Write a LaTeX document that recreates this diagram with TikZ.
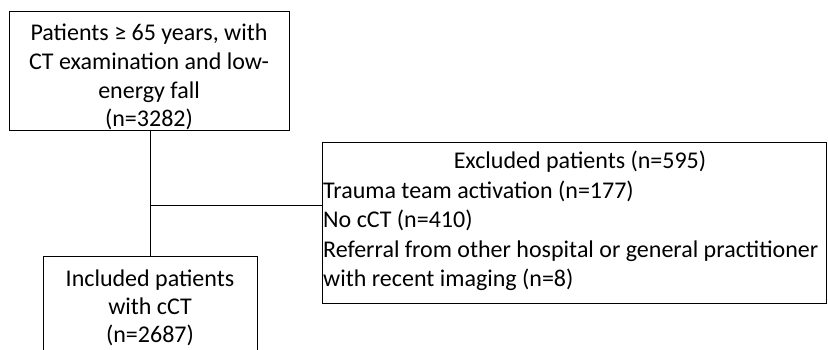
\documentclass[tikz,border=0pt]{standalone}
\usepackage{fontspec}
\setmainfont{Carlito}
\begin{document}
\begin{tikzpicture}[x=1pt,y=-1pt,
  box/.style={draw,line width=1pt,inner sep=0pt},
  txt/.style={inner sep=0pt,anchor=base,font=\fontsize{24}{28}\selectfont},
  txtl/.style={txt,anchor=base west},
  conn/.style={line width=1pt}]
\useasboundingbox (0,0) rectangle (828,350);
\clip (0,0) rectangle (828,350);
% boxes
\node[box,minimum width=280pt,minimum height=119pt] (top) at (149,71.5) {};
\node[box,minimum width=504pt,minimum height=160pt] (excl) at (574,223) {};
\node[box,minimum width=214pt,minimum height=110pt] (incl) at (150,311) {};
% top text
\node[txt] (t1) at (149,41) {Patients ≥ 65 years, with};
\node[txt] (t2) at (149,70) {CT examination and low-};
\node[txt] (t3) at (149,98.5) {energy fall};
\node[txt] (t4) at (149,126.5) {(n=3282)};
% excluded text
\node[txt] (e1) at (580,169) {Excluded patients (n=595)};
\node[txtl] (e2) at (323,198.5) {Trauma team activation (n=177)};
\node[txtl] (e3) at (323,227.5) {No cCT (n=410)};
\node[txtl] (e4) at (323,257) {Referral from other hospital or general practitioner};
\node[txtl] (e5) at (323,286) {with recent imaging (n=8)};
% included text
\node[txt] (i1) at (150,286) {Included patients};
\node[txt] (i2) at (150,314.5) {with cCT};
\node[txt] (i3) at (150,342.5) {(n=2687)};
% connectors
\coordinate (j) at (150,206);
\draw[conn] (top.south -| j) -- (incl.north -| j);
\draw[conn] (j) -- (excl.west |- j);
\end{tikzpicture}
\end{document}
